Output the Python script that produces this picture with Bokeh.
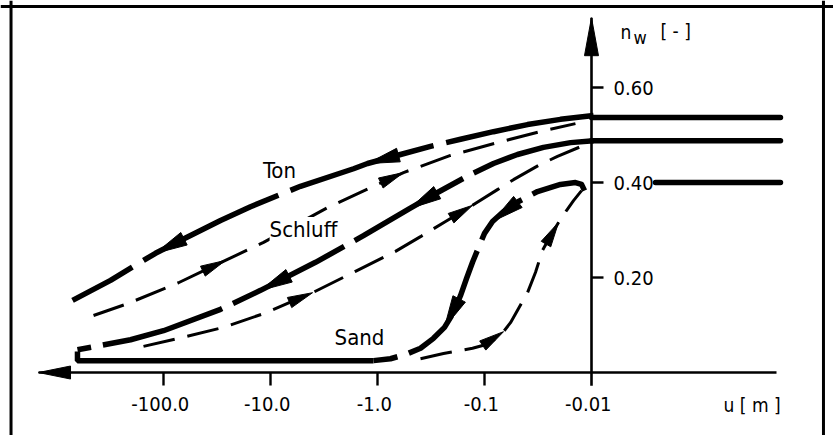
import numpy as np
from bokeh.plotting import figure
from bokeh.models import Range1d, Span, ColumnDataSource
from bokeh.core.properties import value
from bokeh.embed import file_html
from bokeh.resources import INLINE

# ---------------- data ----------------
# horizontal coordinate: x = -log10(|u| / 1 m)  (-100 m -> -2 ... -0.01 m -> 2)
x_tick_vals = [-2, -1, 0, 1, 2]
x_tick_labels = ["-100.0", "-10.0", "-1.0", "-0.1", "-0.01"]
y_tick_vals = [0.2, 0.4, 0.6]
y_tick_labels = ["0.20", "0.40", "0.60"]

soil_names = ["Ton", "Schluff", "Sand"]
sat_n = [0.537, 0.488, 0.400]

# drying branches (drawn from wet to dry) - thick
ton_dry_x = [2.019, 1.710, 1.402, 1.084, 0.776, 0.495, 0.215, -0.093, -0.224, -0.720,
             -1.187, -1.467, -1.841, -2.075, -2.187, -2.495, -2.850]
ton_dry_n = [0.541, 0.533, 0.522, 0.507, 0.491, 0.476, 0.459, 0.440, 0.429, 0.392,
             0.349, 0.320, 0.278, 0.251, 0.236, 0.194, 0.152]

sch_dry_x = [2.019, 1.804, 1.551, 1.308, 1.084, 0.869, 0.561, 0.299, -0.131, -0.579,
             -1.093, -1.467, -2.000, -2.308, -2.589, -2.804]
sch_dry_n = [0.488, 0.484, 0.474, 0.459, 0.440, 0.417, 0.379, 0.345, 0.288, 0.232,
             0.173, 0.133, 0.088, 0.069, 0.057, 0.048]

sand_dry_x = [1.935, 1.907, 1.850, 1.710, 1.495, 1.318, 1.178, 1.075, 1.000, 0.944,
              0.888, 0.832, 0.776, 0.710, 0.626, 0.523, 0.402, 0.262, 0.121, -0.037,
              -2.804, -2.804]
sand_dry_n = [0.383, 0.396, 0.400, 0.396, 0.381, 0.360, 0.339, 0.318, 0.293, 0.263,
              0.232, 0.198, 0.162, 0.126, 0.095, 0.072, 0.051, 0.038, 0.029, 0.025,
              0.025, 0.044]

# wetting branches (drawn from dry to wet) - thin dashed
ton_wet_x = [-2.654, -2.336, -1.860, -1.421, -1.065, -0.720, -0.467, -0.084, 0.243,
             0.682, 1.121, 1.551, 1.850]
ton_wet_n = [0.120, 0.145, 0.189, 0.236, 0.274, 0.316, 0.347, 0.387, 0.421,
             0.457, 0.484, 0.509, 0.524]

sch_wet_x = [-2.187, -1.860, -1.439, -1.065, -0.607, -0.206, 0.168, 0.402, 0.636,
             0.888, 1.121, 1.271, 1.505, 1.682, 1.925]
sch_wet_n = [0.055, 0.072, 0.095, 0.124, 0.168, 0.213, 0.255, 0.286, 0.318,
             0.352, 0.385, 0.406, 0.436, 0.455, 0.478]

sand_wet_x = [0.402, 0.617, 0.888, 1.000, 1.090, 1.178, 1.243, 1.318, 1.402, 1.477,
              1.542, 1.617, 1.692, 1.766, 1.832, 1.907]
sand_wet_n = [0.029, 0.040, 0.051, 0.058, 0.069, 0.086, 0.105, 0.135, 0.168, 0.211,
              0.257, 0.288, 0.316, 0.341, 0.362, 0.383]

# arrow-head positions (indices into the branches above)
ton_dry_arrows = [7, 13]
ton_wet_arrows = [3, 8]
sch_dry_arrows = [7, 10]
sch_wet_arrows = [4, 9]
sand_dry_arrows = [7, 14]
sand_wet_arrows = [5, 12]

# ---------------- figure ----------------
W, H = 833, 435
X0, X1 = -3.5234, 4.2617
N0, N1 = -0.1326, 0.7832
SX = W / (X1 - X0)
SY = H / (N1 - N0)

p = figure(width=W, height=H, x_range=Range1d(X0, X1), y_range=Range1d(N0, N1),
           output_backend="svg", toolbar_location=None, min_border=0,
           x_axis_type=None, y_axis_type=None)
p.grid.visible = False
p.outline_line_color = None
p.background_fill_color = "white"
p.border_fill_color = "white"

INK = "black"
FONT = value("DejaVu Sans Condensed")


def head(xs, ns, i, length, half):
    px = np.asarray(xs, float) * SX
    py = np.asarray(ns, float) * SY
    tip = np.array([px[i], py[i]])
    remaining = length
    j = i
    cur = tip.copy()
    while remaining > 1e-9 and j > 0:
        prev = np.array([px[j - 1], py[j - 1]])
        seg = np.linalg.norm(cur - prev)
        if seg >= remaining:
            cur = cur + (prev - cur) * remaining / seg
            remaining = 0
        else:
            remaining -= seg
            cur = prev
            j -= 1
    d = tip - cur
    d = d / np.linalg.norm(d)
    perp = np.array([-d[1], d[0]])
    b = tip - d * length
    p1 = b + perp * half
    p2 = b - perp * half
    return ([tip[0] / SX, p1[0] / SX, p2[0] / SX],
            [tip[1] / SY, p1[1] / SY, p2[1] / SY])


heads_x, heads_y = [], []

# ---- frame ----
for loc in [-3.425, 4.168]:
    p.add_layout(Span(location=loc, dimension="height", line_color=INK, line_width=3))
p.add_layout(Span(location=0.7705, dimension="width", line_color=INK, line_width=3))

# ---- axes ----
xaxis_x = [3.729, -3.168]
xaxis_n = [0.0, 0.0]
p.line(xaxis_x, xaxis_n, line_color=INK, line_width=2.6)
hx, hy = head(xaxis_x, xaxis_n, 1, 32, 6.5)
heads_x.append(hx); heads_y.append(hy)

yaxis_x = [2.0, 2.0]
yaxis_n = [-0.028, 0.747]
p.line(yaxis_x, yaxis_n, line_color=INK, line_width=2.6)
hx, hy = head(yaxis_x, yaxis_n, 1, 38, 7)
heads_x.append(hx); heads_y.append(hy)

tick_len_n = 13 / SY
tick_len_x = 12 / SX
p.segment(x0=x_tick_vals[:-1], y0=[0] * 4, x1=x_tick_vals[:-1], y1=[-tick_len_n] * 4,
          line_color=INK, line_width=2.4)
p.segment(x0=[2] * 3, y0=y_tick_vals, x1=[2 + tick_len_x] * 3, y1=y_tick_vals,
          line_color=INK, line_width=2.4)

# ---- saturated horizontal lines ----
p.line([2.0, 3.766], [sat_n[0]] * 2, line_color=INK, line_width=5.5, line_cap="round")
p.line([2.0, 3.766], [sat_n[1]] * 2, line_color=INK, line_width=5.5, line_cap="round")
p.line([2.598, 3.766], [sat_n[2]] * 2, line_color=INK, line_width=5.5, line_cap="round")

# ---- drying branches (thick long dashes) ----
p.line(ton_dry_x, ton_dry_n, line_color=INK, line_width=5.5, line_dash="150 13")
p.line(sch_dry_x, sch_dry_n, line_color=INK, line_width=5.5, line_dash="125 12")
k = next(i for i, v in enumerate(sand_dry_n) if v <= 0.025)
p.line(sand_dry_x[:k + 1], sand_dry_n[:k + 1], line_color=INK, line_width=5.5,
       line_dash="58 12", line_join="round")
p.line(sand_dry_x[k:], sand_dry_n[k:], line_color=INK, line_width=5.5)

# ---- wetting branches (thin dashes) ----
for xs, ns in [(ton_wet_x, ton_wet_n), (sch_wet_x, sch_wet_n), (sand_wet_x, sand_wet_n)]:
    p.line(xs, ns, line_color=INK, line_width=3, line_dash="32 13")

# ---- arrow heads on the branches ----
for xs, ns, idx, L, hw in [
        (ton_dry_x, ton_dry_n, ton_dry_arrows, 32, 7),
        (sch_dry_x, sch_dry_n, sch_dry_arrows, 32, 7),
        (sand_dry_x, sand_dry_n, sand_dry_arrows, 32, 7),
        (ton_wet_x, ton_wet_n, ton_wet_arrows, 25, 5.5),
        (sch_wet_x, sch_wet_n, sch_wet_arrows, 25, 5.5),
        (sand_wet_x, sand_wet_n, sand_wet_arrows, 25, 5.5)]:
    for i in idx:
        hx, hy = head(xs, ns, i, L, hw)
        heads_x.append(hx); heads_y.append(hy)

p.patches(heads_x, heads_y, fill_color=INK, line_color=INK, line_width=1)

# ---- tick labels ----
xl = ColumnDataSource(dict(x=[v - 0.03 for v in x_tick_vals],
                           y=[-0.067] * len(x_tick_vals), t=x_tick_labels))
p.text(x="x", y="y", text="t", source=xl, text_font=FONT, text_font_size="20px",
       text_align="center", text_baseline="middle", text_color=INK)

yl = ColumnDataSource(dict(x=[2.206] * len(y_tick_vals), y=y_tick_vals, t=y_tick_labels))
p.text(x="x", y="y", text="t", source=yl, text_font=FONT, text_font_size="20px",
       text_align="left", text_baseline="middle", text_color=INK)

# ---- axis titles ----
p.text(x=[2.271], y=[0.716], text=["n"], text_font=FONT, text_font_size="19px",
       text_baseline="middle", text_color=INK)
p.text(x=[2.393], y=[0.706], text=["w"], text_font=FONT, text_font_size="18px",
       text_baseline="middle", text_color=INK)
p.text(x=[2.645], y=[0.72], text=["[ - ]"], text_font=FONT, text_font_size="19px",
       text_baseline="middle", text_color=INK)
p.text(x=[3.234], y=[-0.069], text=["u [ m ]"], text_font=FONT,
       text_font_size="19px", text_baseline="middle", text_color=INK)

# ---- curve names ----
names = ColumnDataSource(dict(x=[-0.916, -0.692, -0.168], y=[0.425, 0.301, 0.074],
                              t=soil_names))
p.text(x="x", y="y", text="t", source=names, text_font=FONT, text_font_size="22px",
       text_align="center", text_baseline="middle", text_color=INK,
       background_fill_color="white")

open("out.html", "w").write(file_html(p, INLINE))
